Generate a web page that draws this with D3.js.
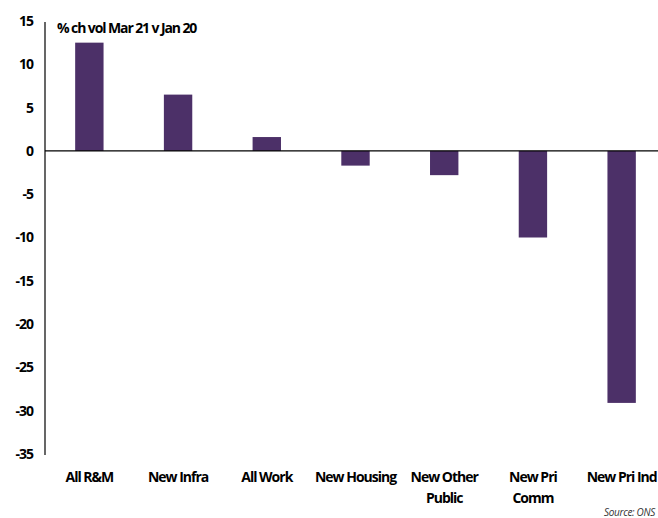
<!DOCTYPE html>
<html>
<head>
<meta charset="utf-8">
<script src="https://cdn.jsdelivr.net/npm/d3@7"></script>
<style>
  body { margin: 0; background: #fff; }
  text { font-family: "Open Sans", sans-serif; }
</style>
</head>
<body>
<svg id="chart" width="658" height="518"></svg>
<script>
const categories = [["All R&M"], ["New Infra"], ["All Work"], ["New Housing"], ["New Other", "Public"], ["New Pri", "Comm"], ["New Pri Ind"]];
const values = [12.5, 6.5, 1.6, -1.7, -2.8, -10.0, -29.1];
const yTicks = [15, 10, 5, 0, -5, -10, -15, -20, -25, -30, -35];

const svg = d3.select("#chart");
const width = 658;
const left = 45;

const y = d3.scaleLinear().domain([-35, 15]).range([454, 21]);
const x = d3.scaleBand()
    .domain(d3.range(categories.length))
    .range([left, 666])
    .paddingInner(0.68)
    .paddingOuter(0.34);

// bars
svg.append("g")
    .selectAll("rect")
    .data(values)
    .enter()
    .append("rect")
    .attr("x", (d, i) => x(i))
    .attr("width", x.bandwidth())
    .attr("y", d => y(Math.max(0, d)))
    .attr("height", d => Math.abs(y(d) - y(0)))
    .attr("fill", "#4c3068");

// y axis line + labels
svg.append("line")
    .attr("x1", left).attr("x2", left)
    .attr("y1", y(15) + 1).attr("y2", y(-35) + 1)
    .attr("stroke", "#000").attr("stroke-width", 1.2);

svg.append("g")
    .selectAll("text")
    .data(yTicks)
    .enter()
    .append("text")
    .attr("x", 33)
    .attr("y", d => y(d))
    .attr("dy", "0.35em")
    .attr("text-anchor", "end")
    .attr("font-size", 14)
    .attr("font-weight", 700)
    .attr("letter-spacing", -1)
    .text(d => d);

// zero line
svg.append("line")
    .attr("x1", left).attr("x2", width)
    .attr("y1", y(0)).attr("y2", y(0))
    .attr("stroke", "#000").attr("stroke-width", 1.2);

// category labels
const labels = svg.append("g")
    .selectAll("text")
    .data(categories)
    .enter()
    .append("text")
    .attr("text-anchor", "middle")
    .attr("font-size", 14)
    .attr("font-weight", 700)
    .attr("letter-spacing", -1)
    .attr("transform", (d, i) => `translate(${x(i) + x.bandwidth() / 2},482)`);

labels.selectAll("tspan")
    .data(d => d)
    .enter()
    .append("tspan")
    .attr("x", 0)
    .attr("dy", (d, i) => i === 0 ? 0 : 21)
    .text(d => d);

// title
svg.append("text")
    .attr("x", 57)
    .attr("y", 33)
    .attr("font-size", 14)
    .attr("font-weight", 700)
    .attr("letter-spacing", -1.1)
    .text("% ch vol Mar 21 v Jan 20");

// source
svg.append("text")
    .attr("x", 655)
    .attr("y", 516)
    .attr("text-anchor", "end")
    .attr("font-size", 10)
    .attr("font-style", "italic")
    .attr("fill", "#333")
    .attr("letter-spacing", -0.3)
    .text("Source: ONS");
</script>
</body>
</html>
